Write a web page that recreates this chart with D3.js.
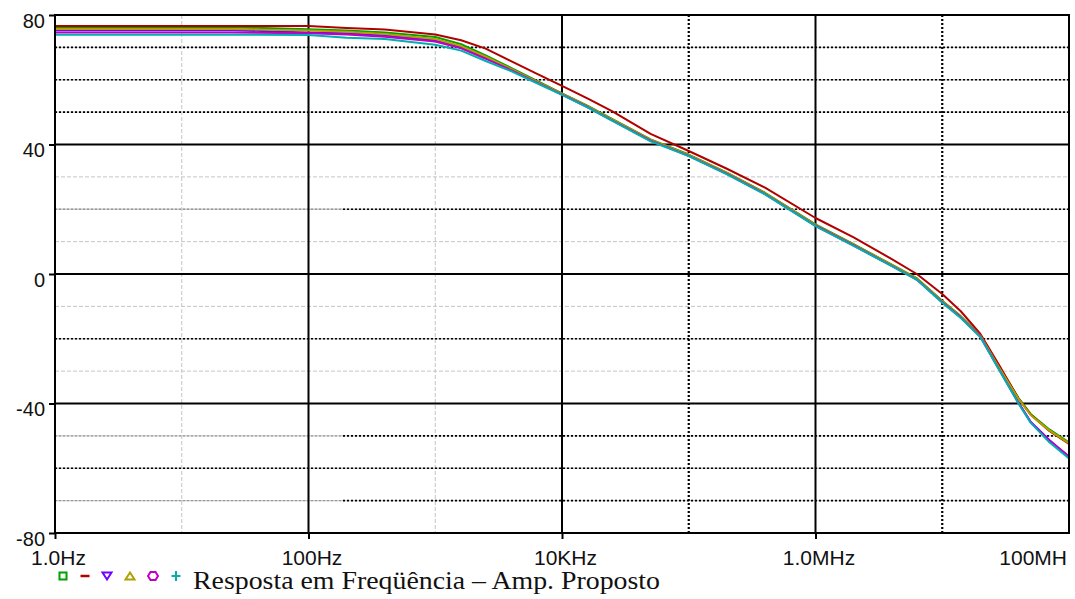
<!DOCTYPE html>
<html>
<head>
<meta charset="utf-8">
<script src="https://cdn.jsdelivr.net/npm/d3@7"></script>
<style>
	body { margin: 0; background: #fff; }
	svg { display: block; }
</style>
</head>
<body>
<svg id="chart" width="1075" height="599"></svg>
<script>
// frequencies (Hz) shared by all traces
const freqs = [1, 25, 100, 200, 400, 1e3, 1.6e3, 2.5e3, 4e3, 6.3e3, 1e4, 1.6e4, 2.5e4, 5e4, 1e5,
	2e5, 4e5, 1e6, 2e6, 4e6, 6.3e6, 1e7, 1.4e7, 2e7, 2.8e7, 4e7, 5e7, 7e7, 1e8];

// gain in dB, one array per trace
const green = [76.2, 76.2, 75.6, 75.2, 74.6, 73.2, 71.0, 67.5, 63.6, 59.7, 55.8, 51.9, 47.8, 41.6, 36.9,
	31.3, 25.1, 15.3, 9.2, 2.9, -1.3, -8.3, -13.0, -19.0, -28.5, -38.3, -43.3, -48.0, -52.0];
const red = [76.6, 76.6, 76.6, 76.0, 75.5, 74.0, 72.2, 69.6, 65.7, 61.9, 58.1, 54.2, 50.2, 43.3, 38.0,
	32.5, 26.7, 17.3, 11.3, 4.6, 0.0, -6.2, -11.5, -18.5, -28.0, -38.5, -43.5, -48.5, -52.5];
const blue = [75.3, 75.3, 74.6, 74.4, 73.7, 72.2, 70.1, 66.8, 63.1, 59.4, 55.6, 51.6, 47.5, 41.3, 36.6,
	31.0, 24.8, 15.0, 8.9, 2.6, -1.6, -8.6, -13.3, -19.3, -29.2, -39.7, -45.7, -51.3, -56.5];
const olive = [75.7, 75.7, 75.2, 74.8, 74.1, 72.6, 70.4, 67.1, 63.3, 59.5, 55.7, 51.8, 47.7, 41.5, 36.8,
	31.2, 25.0, 15.2, 9.1, 2.8, -1.4, -8.4, -13.1, -19.1, -28.8, -38.6, -43.6, -48.3, -52.3];
const magenta = [74.6, 74.6, 74.4, 74.0, 73.3, 71.8, 69.7, 66.5, 62.9, 59.2, 55.4, 51.5, 47.4, 41.2, 36.5,
	30.9, 24.7, 14.9, 8.8, 2.5, -1.7, -8.7, -13.4, -19.4, -29.4, -39.9, -45.9, -51.5, -56.3];
const cyan = [73.9, 73.9, 73.8, 73.0, 72.6, 70.8, 69.0, 65.8, 62.6, 59.0, 55.3, 51.4, 47.3, 41.0, 36.4,
	30.8, 24.6, 14.8, 8.7, 2.4, -1.8, -8.9, -13.6, -19.5, -29.5, -40.0, -46.0, -52.0, -57.0];

const seriesNames = ["green", "red", "blue", "olive", "magenta", "cyan"];
const seriesValues = [green, red, blue, olive, magenta, cyan];
const seriesColors = ["#00a000", "#b00000", "#7000ff", "#b0a000", "#c000c0", "#00b0b0"];
const seriesSymbols = ["square", "dash", "triDown", "triUp", "ring", "plus"];

const xTicks = [1, 100, 1e4, 1e6, 1e8];
const xTickLabels = ["1.0Hz", "100Hz", "10KHz", "1.0MHz", "100MHz"];
const yTicks = [80, 40, 0, -40, -80];
const yTickLabels = ["80", "40", "0", "-40", "-80"];

const title = "Resposta em Freqüência – Amp. Proposto";

const margin = { left: 55, right: 6, top: 15, bottom: 66 };
const width = 1075, height = 599;

const svg = d3.select("#chart");

const x = d3.scaleLog()
	.domain([1, 1e8])
	.range([margin.left, width - margin.right]);

const y = d3.scaleLinear()
	.domain([-80, 80])
	.range([height - margin.bottom, margin.top]);

const x0 = x.range()[0], x1 = x.range()[1];
const yTop = y.range()[1], yBot = y.range()[0];

// ---- grid ----
const grid = svg.append("g").attr("class", "grid");

// light dashed minor verticals
[10, 1e3].forEach(f => {
	grid.append("line")
		.attr("x1", x(f)).attr("x2", x(f))
		.attr("y1", yTop).attr("y2", yBot)
		.attr("stroke", "#c4c4c4")
		.attr("stroke-width", 1)
		.attr("stroke-dasharray", "4,2");
});

// light dashed minor horizontals
[30, 10, -10, -30].forEach(v => {
	grid.append("line")
		.attr("x1", x0).attr("x2", x1)
		.attr("y1", y(v)).attr("y2", y(v))
		.attr("stroke", "#c4c4c4")
		.attr("stroke-width", 1)
		.attr("stroke-dasharray", "4,2");
});

// dotted horizontals: some start grey on the left part
const dottedRows = [70, 60, 50, 20, -20, -50, -60, -70];
const greyStart = [20, -50, -70];
const splitX = 343;

dottedRows.forEach(v => {
	grid.append("line")
		.attr("x1", x0).attr("x2", x1)
		.attr("y1", y(v)).attr("y2", y(v))
		.attr("stroke", "#c8c8c8")
		.attr("stroke-width", 1.4);
	grid.append("line")
		.attr("x1", greyStart.includes(v) ? splitX : x0).attr("x2", x1)
		.attr("y1", y(v)).attr("y2", y(v))
		.attr("stroke", "#000")
		.attr("stroke-width", 1.6)
		.attr("stroke-dasharray", "2,2");
	if (greyStart.includes(v)) {
		grid.append("line")
			.attr("x1", x0).attr("x2", splitX)
			.attr("y1", y(v)).attr("y2", y(v))
			.attr("stroke", "#9a9a9a")
			.attr("stroke-width", 1.4)
			.attr("stroke-dasharray", "2,2");
	}
});

// dotted verticals
[1e5, 1e7].forEach(f => {
	grid.append("line")
		.attr("x1", x(f)).attr("x2", x(f))
		.attr("y1", yTop).attr("y2", yBot)
		.attr("stroke", "#000")
		.attr("stroke-width", 2.2)
		.attr("stroke-dasharray", "2,2");
});

// major solid lines
[100, 1e4, 1e6].forEach(f => {
	grid.append("line")
		.attr("x1", x(f)).attr("x2", x(f))
		.attr("y1", yTop).attr("y2", yBot)
		.attr("stroke", "#000")
		.attr("stroke-width", 2);
});
[40, 0, -40].forEach(v => {
	grid.append("line")
		.attr("x1", x0).attr("x2", x1)
		.attr("y1", y(v)).attr("y2", y(v))
		.attr("stroke", "#000")
		.attr("stroke-width", 2);
});

// ---- traces ----
const line = d3.line()
	.x(d => x(d[0]))
	.y(d => y(d[1]));

svg.append("defs").append("clipPath")
	.attr("id", "plotClip")
	.append("rect")
	.attr("x", x0).attr("y", yTop)
	.attr("width", x1 - x0).attr("height", yBot - yTop);

const traces = svg.append("g").attr("clip-path", "url(#plotClip)");

seriesValues.forEach((vals, i) => {
	traces.append("path")
		.datum(freqs.map((f, j) => [f, vals[j]]))
		.attr("class", "trace " + seriesNames[i])
		.attr("d", line)
		.attr("fill", "none")
		.attr("stroke", seriesColors[i])
		.attr("stroke-width", 2)
		.attr("stroke-linejoin", "round");
});

// ---- frame ----
svg.append("rect")
	.attr("x", x0).attr("y", yTop)
	.attr("width", x1 - x0).attr("height", yBot - yTop)
	.attr("fill", "none")
	.attr("stroke", "#000")
	.attr("stroke-width", 2);

// ---- axes ----
svg.append("defs").append("clipPath")
	.attr("id", "labelClip")
	.append("rect")
	.attr("x", 0).attr("y", 0)
	.attr("width", 1067).attr("height", height);

const xAxis = svg.append("g")
	.attr("transform", `translate(0,${yBot})`)
	.attr("clip-path", "url(#labelClip)")
	.call(d3.axisBottom(x)
		.tickValues(xTicks)
		.tickFormat((d, i) => xTickLabels[i])
		.tickSize(6)
		.tickPadding(11));

xAxis.select(".domain").remove();
xAxis.selectAll(".tick line").attr("stroke", "#000").attr("stroke-width", 2);
xAxis.selectAll(".tick text")
	.attr("font-family", "Liberation Sans, Arial, sans-serif")
	.attr("font-size", 21)
	.attr("fill", "#111")
	.attr("dx", (d, i) => i === xTicks.length - 1 ? 0 : 3)
	.attr("text-anchor", (d, i) => i === xTicks.length - 1 ? "end" : "middle")
	.attr("x", (d, i) => i === xTicks.length - 1 ? 8 : 0);

const yAxis = svg.append("g")
	.attr("transform", `translate(${x0},0)`)
	.call(d3.axisLeft(y)
		.tickValues(yTicks)
		.tickFormat((d, i) => yTickLabels[i])
		.tickSize(6)
		.tickPadding(4));

yAxis.select(".domain").remove();
yAxis.selectAll(".tick line").attr("stroke", "#000").attr("stroke-width", 2);
yAxis.selectAll(".tick text")
	.attr("font-family", "Liberation Sans, Arial, sans-serif")
	.attr("font-size", 20)
	.attr("fill", "#111")
	.attr("dy", "0.62em");

// ---- legend ----
const legendY = 576;
const legendX = [63, 85, 107, 130, 153, 176];

const symbolPaths = {
	square: "M-3.5,-3.5H3.5V3.5H-3.5Z",
	dash: "M-4.5,0H4.5",
	triDown: "M-4.5,-3.5H4.5L0,3.5Z",
	triUp: "M-4.5,3.5H4.5L0,-3.5Z",
	ring: "M-2.5,-4H2.5L5,0L2.5,4H-2.5L-5,0Z",
	plus: "M-4.5,0H4.5M0,-5V5"
};

const legend = svg.append("g").attr("class", "legend");

seriesNames.forEach((name, i) => {
	legend.append("path")
		.attr("transform", `translate(${legendX[i]},${legendY})`)
		.attr("d", symbolPaths[seriesSymbols[i]])
		.attr("fill", "none")
		.attr("stroke", seriesColors[i])
		.attr("stroke-width", name === "red" ? 2.5 : 2);
});

legend.append("text")
	.attr("x", 193)
	.attr("y", 589)
	.attr("font-family", "Liberation Serif, Times New Roman, serif")
	.attr("font-size", 26)
	.attr("textLength", 467)
	.attr("lengthAdjust", "spacingAndGlyphs")
	.attr("fill", "#111")
	.text(title);
</script>
</body>
</html>
